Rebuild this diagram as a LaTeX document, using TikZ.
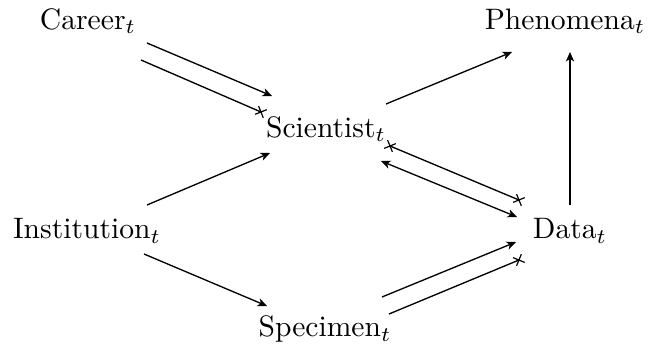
\documentclass[tikz,border=0pt]{standalone}
\usetikzlibrary{calc,decorations.markings,arrows.meta}
\tikzset{
  lbl/.style={inner sep=0pt},
  conn/.style={line width=0.45pt,>={Stealth[length=3.2pt,width=2.8pt,inset=0.9pt]}},
  arr/.style={conn,->},
  crossend/.style={conn,postaction={decorate},decoration={markings,
    mark=at position 1 with {\draw[line width=0.4pt] (-1.5pt,-1.5pt)--(1.5pt,1.5pt) (-1.5pt,1.5pt)--(1.5pt,-1.5pt);}}},
  crossboth/.style={conn,postaction={decorate},decoration={markings,
    mark=at position 0 with {\draw[line width=0.4pt] (-1.5pt,-1.5pt)--(1.5pt,1.5pt) (-1.5pt,1.5pt)--(1.5pt,-1.5pt);},
    mark=at position 1 with {\draw[line width=0.4pt] (-1.5pt,-1.5pt)--(1.5pt,1.5pt) (-1.5pt,1.5pt)--(1.5pt,-1.5pt);}}}
}
\begin{document}
\begin{tikzpicture}[x=0.338pt,y=-0.338pt]
\useasboundingbox (0,0) rectangle (649,349);
\node[lbl] (car) at (88,21) {Career$_t$};
\node[lbl] (phe) at (565,21) {Phenomena$_t$};
\node[lbl] (sci) at (326,129) {Scientist$_t$};
\node[lbl] (ins) at (87,231) {Institution$_t$};
\node[lbl] (dat) at (570,231) {Data$_t$};
\node[lbl] (spe) at (325,329) {Specimen$_t$};
\draw[arr] ($(car)+(59,22)$) -- ($(sci)+(-54,-33)$);
\draw[crossend] ($(car)+(53,39)$) -- ($(sci)+(-65,-17)$);
\draw[arr] ($(sci)+(60,-25)$) -- ($(phe)+(-53,31)$);
\draw[arr] ($(ins)+(60,-26)$) -- ($(sci)+(-56,24)$);
\draw[crossboth] ($(sci)+(64,17)$) -- ($(dat)+(-51,-31)$);
\draw[conn,<->] ($(sci)+(55,32)$) -- ($(dat)+(-53,-14)$);
\draw[arr] ($(ins)+(57,23)$) -- ($(spe)+(-58,-23)$);
\draw[arr] ($(spe)+(57,-32)$) -- ($(dat)+(-54,11)$);
\draw[crossend] ($(spe)+(64,-15)$) -- ($(dat)+(-51,29)$);
\draw[arr] ($(dat)+(0,-26)$) -- ($(phe)+(5,31)$);
\end{tikzpicture}
\end{document}
